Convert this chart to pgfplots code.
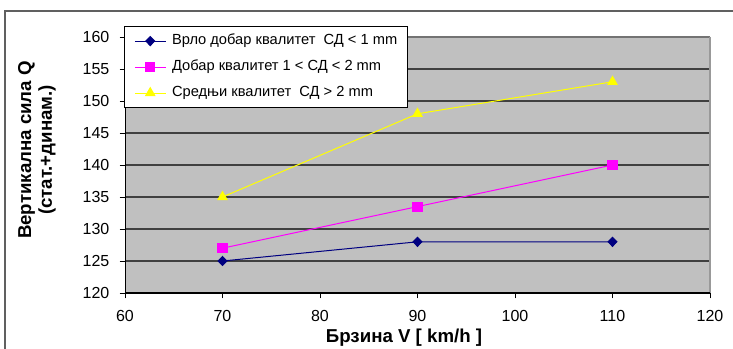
\documentclass[border=0pt]{standalone}
\usepackage{pgfplots}
\pgfplotsset{compat=1.18}
\usepackage{fontspec}
\setmainfont{Liberation Sans}
\definecolor{navyc}{HTML}{000080}
\definecolor{magc}{HTML}{FF00FF}
\definecolor{yelc}{HTML}{FFFF00}
\definecolor{plotbg}{HTML}{C0C0C0}
\definecolor{gridc}{HTML}{404040}
\definecolor{framec}{HTML}{606060}
\begin{document}
\begin{tikzpicture}
\useasboundingbox (0,0) rectangle (549.75pt,261.75pt);
\clip (0,0) rectangle (549.75pt,261.75pt);
\draw[framec, line width=1pt] (3.75pt,-10pt) -- (3.75pt,253.5pt) -- (560pt,253.5pt);
\begin{axis}[
  at={(93.75pt,42pt)}, anchor=south west,
  scale only axis, width=438.75pt, height=192pt,
  xmin=60, xmax=120, ymin=120, ymax=160,
  xtick={60,70,...,120}, ytick={120,125,...,160},
  axis background/.style={fill=plotbg},
  ymajorgrids, grid style={gridc, line width=0.8pt},
  tick align=outside, tick pos=left,
  tick style={black, line width=0.6pt}, major tick length=4pt,
  axis line style={draw=none},
  clip=false,
  /pgf/number format/assume math mode=true,
  tick label style={font=\fontsize{12}{14}\selectfont, inner sep=0pt},
  xticklabel style={anchor=north, yshift=-8.5pt},
  yticklabel style={anchor=east, xshift=-7.5pt},
  legend style={at={(-0.0017,1.043)}, anchor=north west, draw=black,
    line width=0.6pt, fill=white, font=\fontsize{11}{13}\selectfont,
    nodes={inner sep=0pt, text height=8pt, text depth=3pt},
    column sep=4.5pt, row sep=8.5pt, inner xsep=7.5pt, inner ysep=5.5pt,
    cells={anchor=west}},
  legend image code/.code={
    \draw[mark repeat=2,mark phase=2] plot coordinates {(0pt,0pt) (11.5pt,0pt) (23pt,0pt)};
  },
]
\draw[black!55, line width=1.3pt] (rel axis cs:0,1) -- (rel axis cs:1,1);
\draw[black!40, line width=1.3pt] (rel axis cs:1,1) -- (rel axis cs:1,0);
\draw[black, line width=0.7pt] (rel axis cs:0,0) -- (rel axis cs:0,1);
\draw[black, line width=1.2pt] (rel axis cs:0,0) -- (rel axis cs:1,0);

\addplot[navyc, line width=0.75pt, mark=diamond*, mark size=3.4pt, mark options={fill=navyc, draw=navyc, xscale=1.3}]
  coordinates {(70,125) (90,128) (110,128)};
\addlegendentry{Врло добар квалитет\ \ СД < 1 mm}
\addplot[magc, line width=0.75pt, mark=square*, mark size=3.4pt, mark options={fill=magc, draw=magc}]
  coordinates {(70,127) (90,133.5) (110,140)};
\addlegendentry{Добар квалитет 1 < СД < 2 mm}
\addplot[yelc, line width=0.75pt, mark=triangle*, mark size=4pt, mark options={fill=yelc, draw=yelc}]
  coordinates {(70,135) (90,148) (110,153)};
\addlegendentry{Средњи квалитет\ \ СД > 2 mm}
\end{axis}
\node[rotate=90, align=center, font=\bfseries\fontsize{14}{15.5}\selectfont, inner sep=0pt] at (27.75pt,149.25pt)
  {Вертикална сила Q\\(стат.+динам.)};
\node[font=\bfseries\fontsize{14}{16}\selectfont, inner sep=0pt, anchor=base] at (303pt,4.5pt) {Брзина V [ km/h ]};
\end{tikzpicture}
\end{document}
